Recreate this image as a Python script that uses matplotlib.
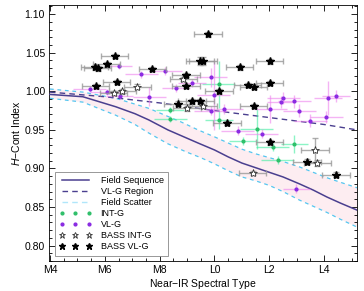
import matplotlib.pyplot as plt
from matplotlib.lines import Line2D

plt.rcParams['font.family'] = 'Liberation Sans'
plt.rcParams['mathtext.fontset'] = 'custom'
plt.rcParams['mathtext.rm'] = 'Liberation Sans'
plt.rcParams['mathtext.it'] = 'Liberation Sans:italic'

# spectral type: M0 = 0, L0 = 10
seq_spt = [4.0, 5.2, 6.4, 7.1, 7.6, 8.3, 9.4, 10.0, 10.5, 11.0, 11.5, 12.0, 12.5, 13.1, 13.6, 14.1, 14.6, 15.2]
seq_idx = [0.996, 0.993, 0.980, 0.971, 0.963, 0.950, 0.933, 0.924, 0.915, 0.907, 0.901, 0.895, 0.889,
           0.880, 0.872, 0.863, 0.855, 0.846]

up_spt = [4.0, 5.2, 6.4, 7.6, 8.8, 9.4, 10.0, 10.5, 11.0, 11.5, 12.0, 12.5, 13.1, 13.6, 14.1, 14.6, 15.2]
up_idx = [1.003, 0.999, 0.991, 0.978, 0.960, 0.950, 0.941, 0.933, 0.925, 0.919, 0.914, 0.909, 0.902,
          0.895, 0.888, 0.882, 0.875]
lo_spt = [4.0, 5.2, 6.4, 7.1, 7.6, 8.3, 9.0, 9.5, 10.0, 10.5, 11.0, 11.5, 12.0, 12.5, 13.1, 13.6, 14.1, 14.6, 15.2]
lo_idx = [0.991, 0.986, 0.969, 0.957, 0.946, 0.932, 0.921, 0.914, 0.906, 0.897, 0.889, 0.884, 0.878,
          0.870, 0.859, 0.851, 0.843, 0.834, 0.824]

vlg_spt = [4.0, 6.0, 8.0, 10.0, 12.0, 14.0, 15.2]
vlg_idx = [0.999, 0.993, 0.985, 0.975, 0.966, 0.957, 0.950]

# INT-G
ig_spt = [8.38, 8.38, 10.16, 10.16, 11.54, 11.03, 12.12, 12.91, 12.30]
ig_idx = [0.976, 0.964, 1.009, 0.963, 0.951, 0.936, 0.928, 0.932, 0.911]
ig_xe = [0.5, 0.6, 0.6, 0.5, 0.6, 0.5, 0.6, 0.5, 0.6]
ig_ye = [0.004, 0.004, 0.030, 0.012, 0.026, 0.005, 0.005, 0.012, 0.005]

# VL-G
vl_spt = [5.45, 6.07, 6.54, 7.33, 7.62, 6.50, 8.20, 8.60, 9.87, 9.98, 10.34, 9.87, 10.85,
          11.72, 12.04, 12.41, 12.51, 12.91, 13.09, 13.49, 14.07, 14.14, 14.43, 12.99, 9.18]
vl_idx = [1.003, 0.999, 0.994, 1.022, 0.993, 1.033, 1.026, 1.004, 1.018, 0.995, 0.977, 0.975, 0.949,
          0.945, 0.977, 0.986, 0.991, 0.987, 0.975, 0.962, 0.967, 0.991, 0.994, 0.874, 1.011]
vl_xe = [0.6, 0.6, 0.5, 0.6, 0.6, 0.5, 0.6, 0.5, 0.6, 0.6, 0.7, 0.6, 0.6,
         0.6, 0.6, 0.5, 0.6, 0.6, 0.6, 0.6, 0.6, 0.5, 0.5, 0.5, 0.5]
vl_ye = [0.004, 0.004, 0.004, 0.005, 0.012, 0.004, 0.005, 0.005, 0.012, 0.045, 0.006, 0.006, 0.006,
         0.006, 0.018, 0.008, 0.008, 0.008, 0.008, 0.008, 0.008, 0.022, 0.008, 0.006, 0.005]

# BASS INT-G (open stars)
bi_spt = [7.19, 6.64, 6.32, 8.86, 9.00, 9.58, 13.67, 13.75, 11.39]
bi_idx = [1.006, 1.000, 0.998, 1.016, 0.978, 0.981, 0.924, 0.907, 0.894]
bi_ye = [0.003, 0.003, 0.003, 0.003, 0.003, 0.003, 0.016, 0.004, 0.003]

# BASS VL-G (filled stars)
bv_spt = [6.36, 5.63, 5.74, 6.07, 7.73, 6.43, 5.67, 9.76, 9.47, 9.58, 10.92, 12.01, 8.96,
          8.96, 10.16, 11.21, 11.43, 12.01, 8.67, 9.18, 9.47, 11.43, 10.45, 12.01, 13.38, 14.43]
bv_idx = [1.046, 1.031, 1.030, 1.035, 1.029, 1.012, 1.007, 1.074, 1.039, 1.039, 1.031, 1.039, 1.021,
          1.007, 1.000, 1.008, 1.006, 1.011, 0.984, 0.987, 0.987, 0.981, 0.959, 0.934, 0.909, 0.892]
bv_ye = [0.003, 0.003, 0.003, 0.003, 0.003, 0.003, 0.003, 0.003, 0.005, 0.005, 0.003, 0.003, 0.003,
         0.003, 0.003, 0.003, 0.003, 0.003, 0.003, 0.003, 0.003, 0.003, 0.003, 0.003, 0.003, 0.003]

xticks = [4, 6, 8, 10, 12, 14]
xlabels = ['M4', 'M6', 'M8', 'L0', 'L2', 'L4']

fig = plt.figure(figsize=(3.64, 2.91), dpi=100)
ax = fig.add_axes([0.135, 0.103, 0.846, 0.880])

ax.fill(up_spt + lo_spt[::-1], up_idx + lo_idx[::-1], color='#fdedf1', lw=0, zorder=1)
ax.plot(up_spt, up_idx, ls=(0, (3, 3)), color='#55c6f0', lw=0.9, zorder=2)
ax.plot(lo_spt, lo_idx, ls=(0, (3, 3)), color='#55c6f0', lw=0.9, zorder=2)
ax.plot(seq_spt, seq_idx, color='#4a3f8f', lw=1.1, zorder=3)
ax.plot(vlg_spt, vlg_idx, ls=(0, (4, 3)), color='#4a3f8f', lw=1.0, zorder=3)

ax.errorbar(ig_spt, ig_idx, xerr=ig_xe, yerr=ig_ye, fmt='none', ecolor='#40eea0',
            elinewidth=1.0, capsize=0, alpha=0.6, zorder=4)
ax.plot(ig_spt, ig_idx, ls='none', marker='o', ms=2, color='#2fbf6a', zorder=4)
ax.errorbar(vl_spt, vl_idx, xerr=vl_xe, yerr=vl_ye, fmt='none', ecolor='#ee82ee',
            elinewidth=1.0, capsize=0, alpha=0.6, zorder=4)
ax.plot(vl_spt, vl_idx, ls='none', marker='o', ms=2, color='#8a2be2', zorder=4)
ax.errorbar(bi_spt, bi_idx, xerr=0.5, yerr=bi_ye, fmt='none', ecolor='#999999',
            elinewidth=1.0, capsize=2, alpha=0.8, zorder=5)
ax.plot(bi_spt, bi_idx, ls='none', marker='*', ms=6, mfc='white', mec='#333333', mew=0.6, zorder=6)
ax.errorbar(bv_spt, bv_idx, xerr=0.5, yerr=bv_ye, fmt='none', ecolor='#999999',
            elinewidth=1.0, capsize=2, alpha=0.8, zorder=5)
ax.plot(bv_spt, bv_idx, ls='none', marker='*', ms=6, color='black', zorder=6)

ax.set_xlim(3.97, 15.2)
ax.set_ylim(0.781, 1.112)
ax.set_xticks(xticks)
ax.set_xticklabels(xlabels)
ax.set_xticks([x / 2 for x in range(8, 31)], minor=True)
ax.set_yticks([0.80, 0.85, 0.90, 0.95, 1.00, 1.05, 1.10])
ax.set_yticks([0.78 + i * 0.01 for i in range(34)], minor=True)
ax.tick_params(which='both', direction='in', top=True, right=True, labelsize=7.5, pad=3)
ax.tick_params(which='major', length=4, width=0.6)
ax.tick_params(which='minor', length=2, width=0.6)
for s in ax.spines.values():
    s.set_linewidth(0.6)
ax.set_xlabel('Near$-$IR Spectral Type', fontsize=7.5, labelpad=1)
ax.set_ylabel('$H$\u2212Cont Index', fontsize=7.5, labelpad=2)

handles = [
    Line2D([], [], color='#4a3f8f', lw=1.1),
    Line2D([], [], color='#4a3f8f', lw=1.0, ls=(0, (4, 3))),
    Line2D([], [], color='#b0e6fa', lw=1.0, ls=(0, (4, 3))),
    Line2D([], [], ls='none', marker='o', ms=2, color='#2fbf6a'),
    Line2D([], [], ls='none', marker='o', ms=2, color='#8a2be2'),
    Line2D([], [], ls='none', marker='*', ms=5, mfc='white', mec='#333333', mew=0.6),
    Line2D([], [], ls='none', marker='*', ms=5, color='black'),
]
labels = ['Field Sequence', 'VL-G Region', 'Field Scatter', 'INT-G', 'VL-G',
          'BASS INT-G', 'BASS VL-G']
leg = ax.legend(handles, labels, loc='lower left', fontsize=6.5, numpoints=3,
                fancybox=False, edgecolor='#888888', framealpha=1, borderaxespad=0.6,
                handlelength=3.6, labelspacing=0.22, borderpad=0.5, handletextpad=1.0)
leg.get_frame().set_linewidth(0.6)

fig.savefig('out.png', dpi=100)
